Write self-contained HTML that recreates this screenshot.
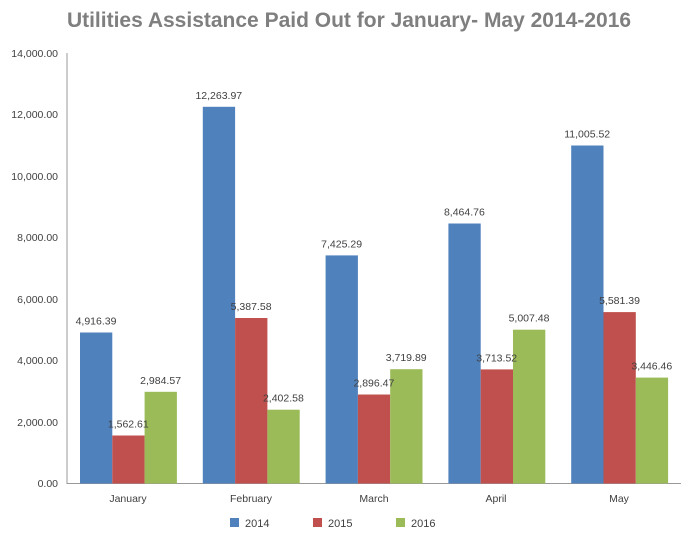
<!DOCTYPE html>
<html><head><style>
body{margin:0;background:#fff;}
svg text{font-family:"Liberation Sans",sans-serif;}
</style></head><body>
<svg width="698" height="545" xmlns="http://www.w3.org/2000/svg">
<text x="349" y="27" text-anchor="middle" font-size="21" font-weight="bold" fill="#7f7f7f">Utilities Assistance Paid Out for January- May 2014-2016</text>
<g font-size="10.5" fill="#404040" text-anchor="end">
<text x="58" y="57">14,000.00</text>
<text x="58" y="118">12,000.00</text>
<text x="58" y="180">10,000.00</text>
<text x="58" y="241">8,000.00</text>
<text x="58" y="303">6,000.00</text>
<text x="58" y="364">4,000.00</text>
<text x="58" y="426">2,000.00</text>
<text x="58" y="487">0.00</text>
</g>
<line x1="67" y1="53" x2="67" y2="484" stroke="#999"/>
<line x1="67" y1="483.5" x2="681" y2="483.5" stroke="#999"/>
<g>
<rect x="80" y="332.5" width="32.3" height="151" fill="#4f81bd"/>
<rect x="112.3" y="435.5" width="32.3" height="48" fill="#c0504d"/>
<rect x="144.6" y="391.8" width="32.3" height="91.7" fill="#9bbb59"/>
<rect x="202.8" y="106.8" width="32.3" height="376.7" fill="#4f81bd"/>
<rect x="235.1" y="318" width="32.3" height="165.5" fill="#c0504d"/>
<rect x="267.4" y="409.7" width="32.3" height="73.8" fill="#9bbb59"/>
<rect x="325.6" y="255.4" width="32.3" height="228.1" fill="#4f81bd"/>
<rect x="357.9" y="394.5" width="32.3" height="89" fill="#c0504d"/>
<rect x="390.2" y="369.2" width="32.3" height="114.3" fill="#9bbb59"/>
<rect x="448.4" y="223.5" width="32.3" height="260" fill="#4f81bd"/>
<rect x="480.7" y="369.4" width="32.3" height="114.1" fill="#c0504d"/>
<rect x="513" y="329.7" width="32.3" height="153.8" fill="#9bbb59"/>
<rect x="571.2" y="145.5" width="32.3" height="338" fill="#4f81bd"/>
<rect x="603.5" y="312.1" width="32.3" height="171.4" fill="#c0504d"/>
<rect x="635.8" y="377.6" width="32.3" height="105.9" fill="#9bbb59"/>
</g>
<g font-size="10.5" fill="#404040" text-anchor="middle">
<text x="96" y="324.5">4,916.39</text>
<text x="128.3" y="427.5">1,562.61</text>
<text x="160.6" y="383.8">2,984.57</text>
<text x="218.8" y="98.8">12,263.97</text>
<text x="251.1" y="310">5,387.58</text>
<text x="283.4" y="401.7">2,402.58</text>
<text x="341.6" y="247.4">7,425.29</text>
<text x="373.9" y="386.5">2,896.47</text>
<text x="406.2" y="361.2">3,719.89</text>
<text x="464.4" y="215.5">8,464.76</text>
<text x="496.7" y="361.4">3,713.52</text>
<text x="529" y="321.7">5,007.48</text>
<text x="587.2" y="137.5">11,005.52</text>
<text x="619.5" y="304.1">5,581.39</text>
<text x="651.8" y="369.6">3,446.46</text>
</g>
<g font-size="10.5" fill="#404040" text-anchor="middle">
<text x="128" y="502">January</text>
<text x="251" y="502">February</text>
<text x="374" y="502">March</text>
<text x="496" y="502">April</text>
<text x="619" y="502">May</text>
</g>
<g font-size="11" fill="#404040">
<rect x="230" y="518" width="9" height="9" fill="#4f81bd"/><text x="245" y="527">2014</text>
<rect x="313" y="518" width="9" height="9" fill="#c0504d"/><text x="328" y="527">2015</text>
<rect x="396" y="518" width="9" height="9" fill="#9bbb59"/><text x="411" y="527">2016</text>
</g>
</svg>
</body></html>
